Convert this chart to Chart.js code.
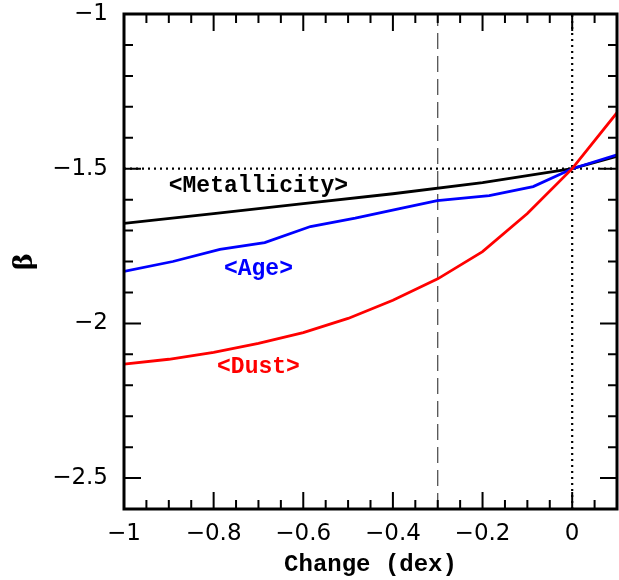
<!DOCTYPE html>
<html>
<head>
<meta charset="utf-8">
<script src="https://cdn.jsdelivr.net/npm/chart.js@4.4.1/dist/chart.umd.min.js"></script>
<style>
  html, body { margin: 0; padding: 0; background: #fff; }
  #wrap { width: 619px; height: 580px; }
</style>
</head>
<body>
<div id="wrap"><canvas id="betaChart" width="619" height="580"></canvas></div>
<script>
// beta vs change (dex) for the three model parameters

const changeTicks = [-1, -0.8, -0.6, -0.4, -0.2, 0];
const betaTicks = [-2.5, -2, -1.5, -1];

const metalX = [-1, -0.8, -0.6, -0.4, -0.2, 0, 0.1];
const metalBeta = [-1.677, -1.645, -1.613, -1.581, -1.545, -1.5, -1.46];

const ageX = [-1, -0.891, -0.786, -0.686, -0.584, -0.484, -0.385, -0.301, -0.185, -0.087, 0, 0.1];
const ageBeta = [-1.832, -1.8, -1.761, -1.739, -1.687, -1.66, -1.629, -1.603, -1.587, -1.558, -1.5, -1.455];

const dustX = [-1, -0.9, -0.8, -0.7, -0.6, -0.5, -0.4, -0.3, -0.2, -0.1, 0, 0.1];
const dustBeta = [-2.132, -2.116, -2.094, -2.065, -2.03, -1.984, -1.925, -1.856, -1.768, -1.645, -1.5, -1.319];

// reference lines
const refBeta = -1.5;
const refChange = 0;
const markChange = -0.3;

const curveNames = ['<Metallicity>', '<Age>', '<Dust>'];
const nameAtX = [-0.7, -0.7, -0.7];
const nameAtBeta = [-1.555, -1.826, -2.142];
const curveColors = ['#000000', '#0000ff', '#ff0000'];

const X_MIN = -1, X_MAX = 0.1, Y_MIN = -2.6, Y_MAX = -1;

function pts(xs, ys) {
  return xs.map((x, i) => ({ x: x, y: ys[i] }));
}

function fmt(v) {
  return String(v).replace('-', '\u2212');
}

// inward ticks on all four sides plus a heavy frame
const framePlugin = {
  id: 'frame',
  afterDatasetsDraw(chart) {
    const { ctx, chartArea: a, scales } = chart;
    const xs = scales.x, ys = scales.y;
    ctx.save();
    ctx.strokeStyle = '#000';
    ctx.lineWidth = 2;
    ctx.beginPath();
    for (let i = 0; i <= 22; i++) {
      const v = Math.round((X_MIN + i * 0.05) * 100) / 100;
      const major = changeTicks.some(t => Math.abs(t - v) < 1e-6);
      const len = major ? 17 : 9;
      const px = xs.getPixelForValue(v);
      ctx.moveTo(px, a.bottom); ctx.lineTo(px, a.bottom - len);
      ctx.moveTo(px, a.top); ctx.lineTo(px, a.top + len);
    }
    for (let i = 0; i <= 16; i++) {
      const v = Math.round((Y_MIN + i * 0.1) * 10) / 10;
      const major = betaTicks.some(t => Math.abs(t - v) < 1e-6);
      const len = major ? 17 : 9;
      const py = ys.getPixelForValue(v);
      ctx.moveTo(a.left, py); ctx.lineTo(a.left + len, py);
      ctx.moveTo(a.right, py); ctx.lineTo(a.right - len, py);
    }
    ctx.stroke();
    ctx.lineWidth = 3;
    ctx.strokeRect(a.left, a.top, a.right - a.left, a.bottom - a.top);

    ctx.font = 'bold 23px "Liberation Mono"';
    ctx.textAlign = 'center';
    ctx.textBaseline = 'middle';
    curveNames.forEach((name, i) => {
      ctx.fillStyle = curveColors[i];
      ctx.fillText(name, xs.getPixelForValue(nameAtX[i]), ys.getPixelForValue(nameAtBeta[i]));
    });
    ctx.restore();
  }
};

const ctx = document.getElementById('betaChart').getContext('2d');
new Chart(ctx, {
  type: 'scatter',
  data: {
    datasets: [
      { label: 'Dust', data: pts(dustX, dustBeta), borderColor: curveColors[2], borderWidth: 2.8 },
      { label: 'Age', data: pts(ageX, ageBeta), borderColor: curveColors[1], borderWidth: 2.8 },
      { label: 'Metallicity', data: pts(metalX, metalBeta), borderColor: curveColors[0], borderWidth: 2.8 },
      { label: 'ref beta', data: pts([X_MIN, X_MAX], [refBeta, refBeta]), borderColor: '#000', borderWidth: 2.2, borderDash: [2, 4] },
      { label: 'ref change', data: pts([refChange, refChange], [Y_MIN, Y_MAX]), borderColor: '#000', borderWidth: 2.2, borderDash: [2, 4] },
      { label: 'mark', data: pts([markChange, markChange], [Y_MIN, Y_MAX]), borderColor: '#444', borderWidth: 1.2, borderDash: [16, 7] }
    ].map(d => Object.assign(d, { showLine: true, pointRadius: 0, fill: false, tension: 0 }))
  },
  options: {
    responsive: false,
    animation: false,
    layout: { padding: { top: 14, right: 2, left: 0, bottom: 0 } },
    plugins: { legend: { display: false }, tooltip: { enabled: false } },
    scales: {
      x: {
        type: 'linear', min: X_MIN, max: X_MAX,
        grid: { display: false, drawTicks: false },
        border: { display: false },
        afterBuildTicks: s => { s.ticks = changeTicks.map(v => ({ value: v })); },
        afterFit: s => { s.height = 71; s.paddingLeft = 0; s.paddingRight = 0; },
        ticks: {
          padding: 11, color: '#000', maxRotation: 0, autoSkip: false,
          font: { family: '"DejaVu Sans"', size: 23 },
          callback: v => fmt(v)
        },
        title: {
          display: true, text: 'Change (dex)', color: '#000',
          font: { family: '"Liberation Mono"', size: 24, weight: 'bold' },
          padding: { top: 0, bottom: 1 }
        }
      },
      y: {
        type: 'linear', min: Y_MIN, max: Y_MAX,
        grid: { display: false, drawTicks: false },
        border: { display: false },
        afterBuildTicks: s => { s.ticks = betaTicks.map(v => ({ value: v })); },
        afterFit: s => { s.width = 124; s.paddingTop = 0; s.paddingBottom = 0; },
        ticks: {
          padding: 16, color: '#000', autoSkip: false,
          font: { family: '"DejaVu Sans"', size: 23 },
          callback: v => fmt(v)
        },
        title: {
          display: true, text: '\u03b2', color: '#000',
          font: { family: '"DejaVu Serif"', size: 26, weight: 'bold' },
          padding: { top: 10, bottom: 0 }
        }
      }
    }
  },
  plugins: [framePlugin]
});
</script>
</body>
</html>
